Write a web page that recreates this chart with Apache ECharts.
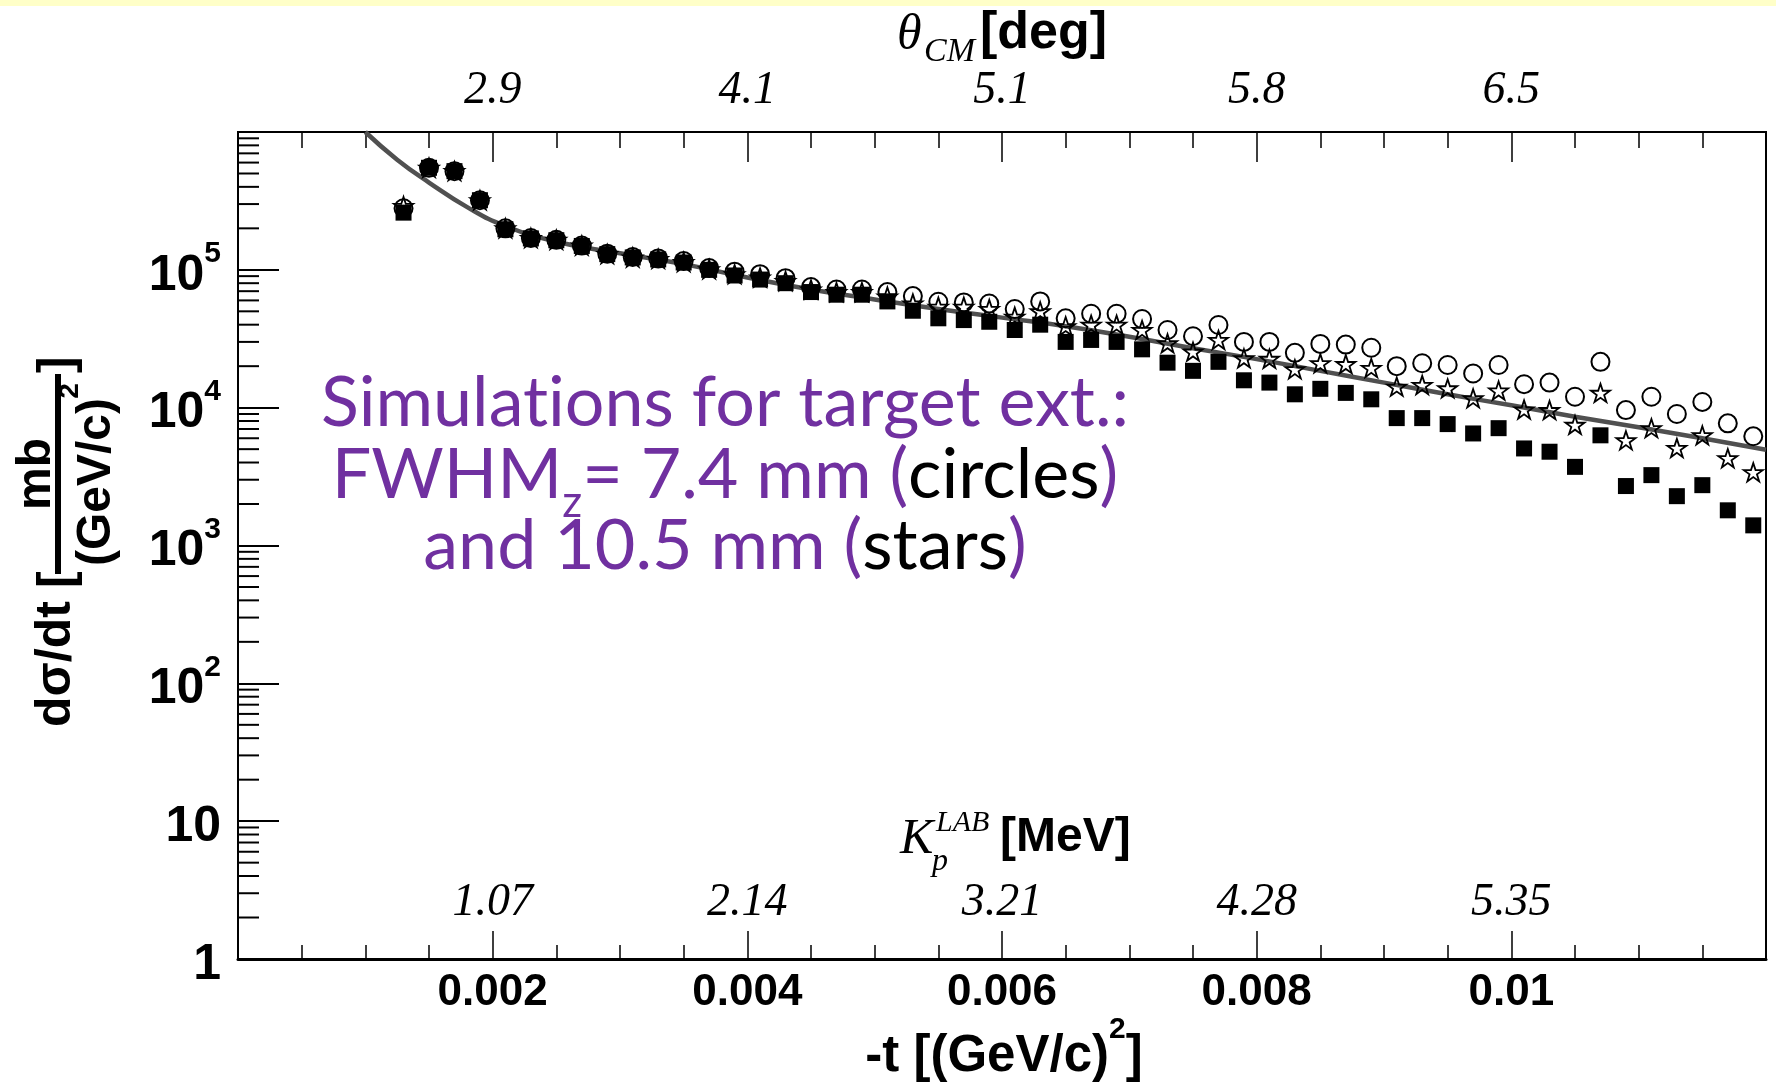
<!DOCTYPE html>
<html lang="en">
<head>
  <meta charset="UTF-8">
  <title>dσ/dt vs -t</title>
  <script src="https://cdn.jsdelivr.net/npm/echarts@6/dist/echarts.min.js"></script>
  <style>
    html, body { margin: 0; padding: 0; background: #fff; }
    #main { width: 1776px; height: 1085px; }
  </style>
</head>
<body>
  <div id="main"></div>
  <script>
    // -t values [(GeV/c)^2] of the simulated points
    var tValues = [0.0013, 0.0015, 0.0017, 0.0019, 0.0021, 0.0023, 0.0025, 0.0027, 0.0029, 0.0031,
      0.0033, 0.0035, 0.0037, 0.0039, 0.0041, 0.0043, 0.0045, 0.0047, 0.0049, 0.0051,
      0.0053, 0.0055, 0.0057, 0.0059, 0.0061, 0.0063, 0.0065, 0.0067, 0.0069, 0.0071,
      0.0073, 0.0075, 0.0077, 0.0079, 0.0081, 0.0083, 0.0085, 0.0087, 0.0089, 0.0091,
      0.0093, 0.0095, 0.0097, 0.0099, 0.0101, 0.0103, 0.0105, 0.0107, 0.0109, 0.0111,
      0.0113, 0.0115, 0.0117, 0.0119];
    // filled squares
    var squares = [2.6e5, 5.5e5, 5.2e5, 3.2e5, 1.97e5, 1.69e5, 1.64e5, 1.49e5, 1.30e5, 1.23e5,
      1.19e5, 1.13e5, 1.0e5, 9.1e4, 8.5e4, 8.0e4, 6.9e4, 6.6e4, 6.6e4, 5.9e4,
      5.05e4, 4.45e4, 4.32e4, 4.2e4, 3.66e4, 4.0e4, 3.0e4, 3.1e4, 3.0e4, 2.65e4,
      2.12e4, 1.85e4, 2.15e4, 1.58e4, 1.52e4, 1.25e4, 1.37e4, 1.28e4, 1.15e4, 8.4e3,
      8.4e3, 7.6e3, 6.5e3, 7.1e3, 5.06e3, 4.79e3, 3.72e3, 6.3e3, 2.7e3, 3.24e3,
      2.28e3, 2.74e3, 1.8e3, 1.4e3];
    // FWHM_z = 7.4 mm (open circles)
    var circles = [2.8e5, 5.5e5, 5.2e5, 3.2e5, 2.0e5, 1.7e5, 1.65e5, 1.5e5, 1.31e5, 1.24e5,
      1.21e5, 1.16e5, 1.03e5, 9.7e4, 9.3e4, 8.7e4, 7.5e4, 7.2e4, 7.2e4, 6.9e4,
      6.45e4, 5.87e4, 5.8e4, 5.7e4, 5.2e4, 5.9e4, 4.45e4, 4.8e4, 4.8e4, 4.4e4,
      3.66e4, 3.3e4, 3.98e4, 3.0e4, 3.0e4, 2.5e4, 2.9e4, 2.87e4, 2.72e4, 2.0e4,
      2.1e4, 2.04e4, 1.77e4, 2.04e4, 1.48e4, 1.52e4, 1.2e4, 2.15e4, 9.6e3, 1.2e4,
      9.0e3, 1.1e4, 7.7e3, 6.2e3];
    // FWHM_z = 10.5 mm (open stars)
    var stars = [2.9e5, 5.5e5, 5.2e5, 3.2e5, 2.0e5, 1.7e5, 1.65e5, 1.5e5, 1.3e5, 1.23e5,
      1.2e5, 1.14e5, 1.01e5, 9.3e4, 8.8e4, 8.3e4, 7.2e4, 6.9e4, 6.9e4, 6.4e4,
      5.7e4, 5.4e4, 5.4e4, 5.2e4, 4.57e4, 5.0e4, 3.9e4, 4.0e4, 4.0e4, 3.66e4,
      2.93e4, 2.55e4, 3.1e4, 2.28e4, 2.26e4, 1.9e4, 2.1e4, 2.07e4, 1.94e4, 1.42e4,
      1.46e4, 1.38e4, 1.17e4, 1.33e4, 9.7e3, 9.6e3, 7.5e3, 1.28e4, 5.8e3, 7.1e3,
      5.1e3, 6.3e3, 4.3e3, 3.4e3];
    // fitted curve
    var fitT = [0.001, 0.00125, 0.0015, 0.0018, 0.0021, 0.0025, 0.003, 0.0035, 0.004, 0.0045,
      0.005, 0.0055, 0.006, 0.0065, 0.007, 0.0075, 0.008, 0.0085, 0.009, 0.0095,
      0.01, 0.0105, 0.011, 0.0115, 0.012];
    var fitY = [1.0e6, 6.3e5, 4.3e5, 2.85e5, 2.08e5, 1.6e5, 1.32e5, 1.1e5, 8.8e4, 7.2e4,
      6.1e4, 5.2e4, 4.5e4, 3.9e4, 3.27e4, 2.7e4, 2.25e4, 1.85e4, 1.52e4, 1.25e4,
      1.04e4, 8.6e3, 7.2e3, 6.0e3, 4.95e3];

    // tick labels (one per 0.002 step of -t)
    var tLabels = ['', '0.002', '0.004', '0.006', '0.008', '0.01', ''];
    var thetaLabels = ['', '2.9', '4.1', '5.1', '5.8', '6.5', ''];
    var kinLabels = ['', '1.07', '2.14', '3.21', '4.28', '5.35', ''];
    var yLabels = ['1', '10', '10{s|2}', '10{s|3}', '10{s|4}', '10{s|5}', ''];
    var yDecades = [1, 10, 100, 1e3, 1e4, 1e5];
    var yMinorSteps = [2, 3, 4, 5, 6, 7, 8, 9];

    var SANS = "'Liberation Sans', Arial, sans-serif";
    var SERIF = "'Liberation Serif', 'Times New Roman', serif";
    var PURPLE = '#7030a0';
    var STAR = 'path://M50 2 L61.8 38 L99 38 L69 60 L80.5 96 L50 74 L19.5 96 L31 60 L1 38 L38.2 38 Z';

    function pairs(xs, ys) {
      return xs.map(function (x, i) { return [x, ys[i]]; });
    }
    function byStep(labels) {
      return function (v) { return labels[Math.round(v / 0.002)] || ''; };
    }

    var yMinorTicks = [];
    yDecades.forEach(function (d) {
      yMinorSteps.forEach(function (m) { yMinorTicks.push([0, m * d]); });
    });

    var myChart = echarts.init(document.getElementById('main'));

    var baseX = { type: 'value', min: 0, max: 0.012, interval: 0.002, splitLine: { show: false } };

    var option = {
      animation: false,
      backgroundColor: '#fff',
      grid: { left: 238, right: 10, top: 132, bottom: 126, show: true, borderColor: '#000', borderWidth: 2 },
      xAxis: [
        Object.assign({}, baseX, {
          position: 'bottom',
          axisLine: { onZero: false, lineStyle: { color: '#000', width: 3 } },
          axisTick: { inside: true, length: 28, lineStyle: { color: '#000', width: 1.5 } },
          minorTick: { show: true, splitNumber: 4, length: 14, lineStyle: { color: '#000', width: 1.5 } },
          axisLabel: { formatter: byStep(tLabels), margin: 12, color: '#000', fontSize: 44, fontWeight: 'bold', fontFamily: SANS }
        }),
        Object.assign({}, baseX, {
          position: 'top',
          axisLine: { onZero: false, lineStyle: { color: '#000', width: 2 } },
          axisTick: { inside: true, length: 30, lineStyle: { color: '#000', width: 1.5 } },
          minorTick: { show: true, splitNumber: 4, length: 16, lineStyle: { color: '#000', width: 1.5 } },
          axisLabel: { formatter: byStep(thetaLabels), margin: 18, color: '#000', fontSize: 46, fontStyle: 'italic', fontFamily: SERIF }
        }),
        Object.assign({}, baseX, {
          position: 'bottom',
          axisLine: { show: false },
          axisTick: { show: false },
          axisLabel: { inside: true, formatter: byStep(kinLabels), margin: 33, color: '#000', fontSize: 46, fontStyle: 'italic', fontFamily: SERIF }
        })
      ],
      yAxis: {
        type: 'log',
        logBase: 10,
        min: 1,
        max: 1e6,
        splitLine: { show: false },
        axisLine: { show: true, onZero: false, lineStyle: { color: '#000', width: 2 } },
        axisTick: { inside: true, length: 41, lineStyle: { color: '#000', width: 2 } },
        axisLabel: {
          formatter: function (v) { return yLabels[Math.round(Math.log10(v))] || ''; },
          margin: 17, color: '#000', fontSize: 50, fontWeight: 'bold', fontFamily: SANS, lineHeight: 56,
          padding: [12, 0, 0, 0],
          rich: {
            s: { fontSize: 30, fontWeight: 'bold', fontFamily: SANS, color: '#000', lineHeight: 20, padding: [0, 0, 44, 0] }
          }
        }
      },
      series: [
        {
          // minor ticks of the log axis at 2..9 x 10^n
          type: 'custom',
          silent: true,
          clip: false,
          z: 1,
          data: yMinorTicks,
          renderItem: function (params, api) {
            var p = api.coord([api.value(0), api.value(1)]);
            return {
              type: 'line',
              shape: { x1: p[0], y1: p[1], x2: p[0] + 21, y2: p[1] },
              style: { stroke: '#000', lineWidth: 2 }
            };
          }
        },
        {
          type: 'line',
          data: pairs(fitT, fitY),
          smooth: 0.5,
          showSymbol: false,
          z: 2,
          lineStyle: { color: '#505050', width: 4.5 }
        },
        {
          type: 'scatter',
          data: pairs(tValues, squares),
          symbol: 'rect',
          symbolSize: 16,
          z: 3,
          itemStyle: { color: '#000', opacity: 1 }
        },
        {
          type: 'scatter',
          data: pairs(tValues, circles),
          symbol: 'circle',
          symbolSize: 18,
          z: 4,
          itemStyle: { color: 'transparent', borderColor: '#000', borderWidth: 2, opacity: 1 }
        },
        {
          type: 'scatter',
          data: pairs(tValues, stars),
          symbol: STAR,
          symbolSize: 19,
          symbolKeepAspect: true,
          z: 5,
          itemStyle: { color: 'transparent', borderColor: '#000', borderWidth: 1.8, opacity: 1 }
        }
      ],
      graphic: [
        { type: 'rect', silent: true, shape: { x: 0, y: 0, width: 1776, height: 6 }, style: { fill: '#ffffc8' } },
        // top title: theta_CM [deg]
        { type: 'text', silent: true, x: 897, y: 36, style: { text: 'θ', fontSize: 50, fontStyle: 'italic', fontFamily: SERIF, fill: '#000', align: 'left', verticalAlign: 'middle' } },
        { type: 'text', silent: true, x: 924, y: 52, style: { text: 'CM', fontSize: 34, fontStyle: 'italic', fontFamily: SERIF, fill: '#000', align: 'left', verticalAlign: 'middle' } },
        { type: 'text', silent: true, x: 980, y: 34, style: { text: '[deg]', fontSize: 52, fontWeight: 'bold', fontFamily: SANS, fill: '#000', align: 'left', verticalAlign: 'middle' } },
        // K_p^LAB [MeV]
        { type: 'text', silent: true, x: 900, y: 840, style: { text: 'K', fontSize: 50, fontStyle: 'italic', fontFamily: SERIF, fill: '#000', align: 'left', verticalAlign: 'middle' } },
        { type: 'text', silent: true, x: 936, y: 823, style: { text: 'LAB', fontSize: 30, fontStyle: 'italic', fontFamily: SERIF, fill: '#000', align: 'left', verticalAlign: 'middle' } },
        { type: 'text', silent: true, x: 932, y: 862, style: { text: 'p', fontSize: 32, fontStyle: 'italic', fontFamily: SERIF, fill: '#000', align: 'left', verticalAlign: 'middle' } },
        { type: 'text', silent: true, x: 1000, y: 838, style: { text: '[MeV]', fontSize: 48, fontWeight: 'bold', fontFamily: SANS, fill: '#000', align: 'left', verticalAlign: 'middle' } },
        // bottom title
        {
          type: 'text', silent: true, x: 1004, y: 1057,
          style: {
            text: '-t [(GeV/c){sup|2}]', fontSize: 51, fontWeight: 'bold', fontFamily: SANS, fill: '#000', lineHeight: 60,
            align: 'center', verticalAlign: 'middle',
            rich: { sup: { fontSize: 30, fontWeight: 'bold', fontFamily: SANS, fill: '#000', lineHeight: 16, padding: [0, 0, 54, 0] } }
          }
        },
        // y title, rotated
        {
          type: 'group', silent: true, x: 0, y: 727, rotation: Math.PI / 2,
          children: [
            { type: 'text', x: 0, y: 56, style: { text: 'dσ/dt', fontSize: 50, fontWeight: 'bold', fontFamily: SANS, fill: '#000', align: 'left', verticalAlign: 'middle' } },
            { type: 'text', x: 139, y: 58, style: { text: '[', fontSize: 50, fontWeight: 'bold', fontFamily: SANS, fill: '#000', align: 'left', verticalAlign: 'middle' } },
            { type: 'rect', shape: { x: 153, y: 55, width: 200, height: 6 }, style: { fill: '#000' } },
            { type: 'text', x: 253, y: 37, style: { text: 'mb', fontSize: 48, fontWeight: 'bold', fontFamily: SANS, fill: '#000', align: 'center', verticalAlign: 'middle' } },
            { type: 'text', x: 245, y: 97, style: { text: '(GeV/c)', fontSize: 48, fontWeight: 'bold', fontFamily: SANS, fill: '#000', align: 'center', verticalAlign: 'middle' } },
            { type: 'text', x: 336, y: 70, style: { text: '2', fontSize: 28, fontWeight: 'bold', fontFamily: SANS, fill: '#000', align: 'center', verticalAlign: 'middle' } },
            { type: 'text', x: 354, y: 58, style: { text: ']', fontSize: 50, fontWeight: 'bold', fontFamily: SANS, fill: '#000', align: 'left', verticalAlign: 'middle' } }
          ]
        },
        // annotation
        {
          type: 'text', silent: true, x: 725, y: 403,
          style: { text: 'Simulat\u200Cions for target ext.:', fontSize: 70, fontFamily: 'Lato', fill: PURPLE, align: 'center', verticalAlign: 'middle' }
        },
        {
          type: 'text', silent: true, x: 725, y: 475,
          style: {
            text: '{p|FWHM}{z|z}{p|= 7.4 mm (}{k|circles}{p|)}', fontSize: 70, fontFamily: 'Lato', fill: PURPLE, lineHeight: 80,
            align: 'center', verticalAlign: 'middle',
            rich: {
              p: { fontSize: 70, fontFamily: 'Lato', fill: PURPLE, lineHeight: 80 },
              k: { fontSize: 70, fontFamily: 'Lato', fill: '#000', lineHeight: 80 },
              z: { fontSize: 44, fontFamily: 'Lato', fill: PURPLE, lineHeight: 20, padding: [56, 0, 0, 0] }
            }
          }
        },
        {
          type: 'text', silent: true, x: 725, y: 546,
          style: {
            text: '{p|and 10.5 mm (}{k|stars}{p|)}', fontSize: 70, fontFamily: 'Lato', fill: PURPLE, lineHeight: 80,
            align: 'center', verticalAlign: 'middle',
            rich: {
              p: { fontSize: 70, fontFamily: 'Lato', fill: PURPLE, lineHeight: 80 },
              k: { fontSize: 70, fontFamily: 'Lato', fill: '#000', lineHeight: 80 }
            }
          }
        }
      ]
    };

    myChart.setOption(option);
  </script>
</body>
</html>
